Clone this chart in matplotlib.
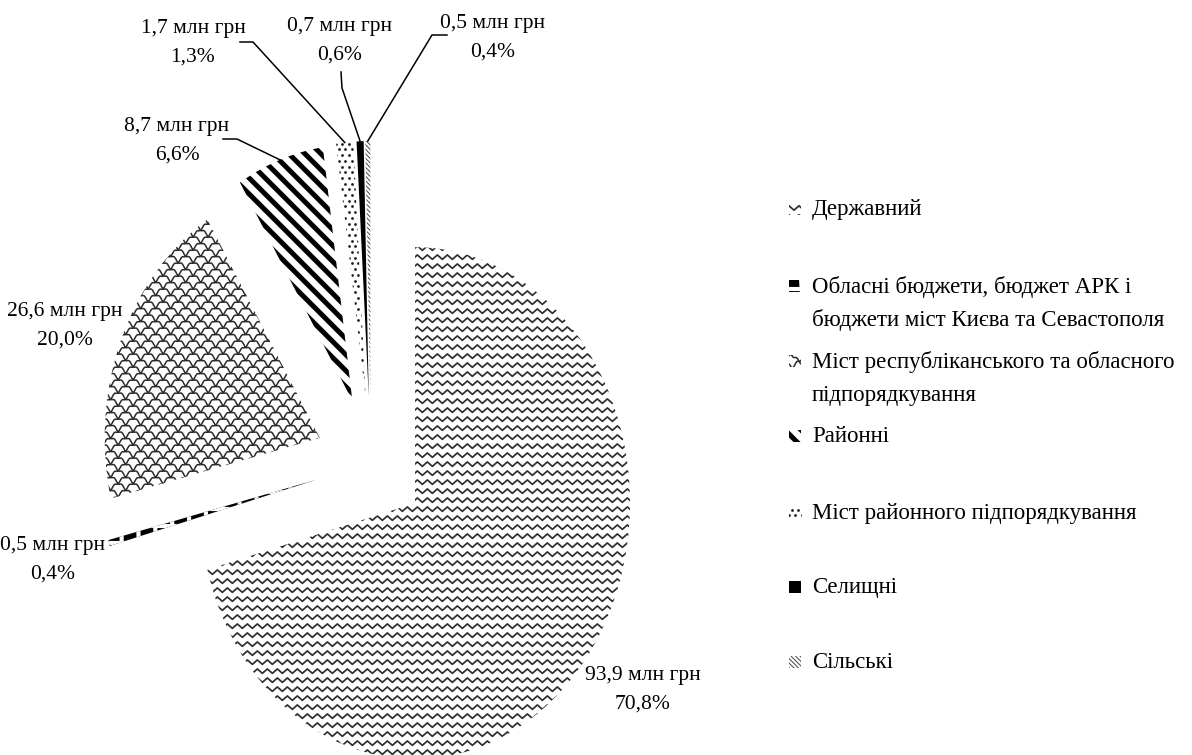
import numpy as np
import matplotlib
matplotlib.use('Agg')
import matplotlib.pyplot as plt
from matplotlib.patches import Rectangle
from matplotlib.collections import LineCollection
from matplotlib.transforms import IdentityTransform

plt.rcParams['font.family'] = ['Liberation Serif', 'DejaVu Serif']

# Розподіл видатків за рівнями бюджетів
categories = [
    'Державний',
    'Обласні бюджети, бюджет АРК і\nбюджети міст Києва та Севастополя',
    'Міст республіканського та обласного\nпідпорядкування',
    'Районні',
    'Міст районного підпорядкування',
    'Селищні',
    'Сільські',
]
amounts = [93.9, 0.5, 26.6, 8.7, 1.7, 0.7, 0.5]   # млн грн
shares = [70.8, 0.4, 20.0, 6.6, 1.3, 0.6, 0.4]    # %
fills = ['wave', 'grid', 'scale', 'stripe', 'dots', 'solid', 'fine']

W, H = 1192, 755
SX = 0.84          # горизонтальне стиснення діаграми
FS_PIE = 15.5
FS_LEG = 16.5

fig = plt.figure(figsize=(W / 100, H / 100), dpi=100)
ax = fig.add_axes([0, 0, 1, 1])


def to_data(x, y):
    """піксельні координати зображення -> координати осей"""
    return x / SX, H - y


wedges, _ = ax.pie(amounts, startangle=90, counterclock=False,
                   radius=256, center=to_data(371, 463),
                   explode=[66] * len(amounts),
                   wedgeprops=dict(facecolor='white', edgecolor='none', linewidth=0))
ax.set_aspect('auto')
ax.set_xlim(0, W / SX)
ax.set_ylim(0, H)
ax.axis('off')

TR = IdentityTransform()


def add_lines(segs, clip, color, lw):
    lc = LineCollection(segs, transform=TR, colors=color, linewidths=lw)
    ax.add_collection(lc, autolim=False)
    lc.set_clip_path(clip)


def texture(patch, kind):
    """заповнення сектора візерунком (у пікселях)"""
    bb = patch.get_window_extent()
    x0, y0, x1, y1 = bb.x0 - 20, bb.y0 - 20, bb.x1 + 20, bb.y1 + 20
    span = (y1 - y0)
    if kind == 'solid':
        patch.set_facecolor('black')
    elif kind == 'wave':
        xs = np.arange(x0, x1, 5.0)
        zig = np.where(np.arange(len(xs)) % 2 == 0, 2.2, -2.2)
        segs = [np.column_stack([xs, yy + zig]) for yy in np.arange(y0, y1, 9.0)]
        add_lines(segs, patch, '#2e2e2e', 1.25)
    elif kind == 'grid':
        patch.set_facecolor('black')
        segs = [[(xx, y0), (xx - 3, y1)] for xx in np.arange(x0, x1, 17.0)]
        segs += [[(x0, yy), (x1, yy)] for yy in np.arange(y0 + 6, y1, 17.0)]
        add_lines(segs, patch, 'white', 3.0)
    elif kind == 'scale':
        w, h = 15.0, 13.0
        xs = np.arange(x0 - span * w / h, x1 + span * w / h, 1.0)
        wob = 1.3 * np.sin(2 * np.pi * xs / 7.5)
        segs = []
        for c in np.arange(x0 - span * w / h, x1 + span * w / h, w):
            segs.append(np.column_stack([xs, y0 + (h / w) * (xs - c) + wob]))
            segs.append(np.column_stack([xs, y1 - (h / w) * (xs - c) + wob]))
        add_lines(segs, patch, '#2a2a2a', 1.1)
    elif kind == 'stripe':
        segs = [[(c, y1), (c + span, y0)] for c in np.arange(x0 - span, x1, 16.0)]
        add_lines(segs, patch, 'black', 3.6)
    elif kind == 'fine':
        segs = [[(c, y1), (c + span, y0)] for c in np.arange(x0 - span, x1, 4.5)]
        add_lines(segs, patch, '#444444', 0.7)
    elif kind == 'dots':
        gx, gy = np.meshgrid(np.arange(x0, x1, 6.5), np.arange(y0, y1, 5.7))
        gx[1::2] += 3.25
        pts, = ax.plot(gx.ravel(), gy.ravel(), 'o', ms=2.0, mew=0,
                       color='#1e1e1e', transform=TR)
        pts.set_clip_path(patch)


for wdg, kind in zip(wedges, fills):
    texture(wdg, kind)

# підписи секторів
label_xy = [(643, 690), (53, 560), (65, 326), (177, 141),
            (193, 43), (340, 41), (493, 38)]
for a, s, (lx, ly) in zip(amounts, shares, label_xy):
    txt = f'{a:.1f} млн грн\n{s:.1f}%'.replace('.', ',')
    ax.text(*to_data(lx, ly), txt, ha='center', va='center',
            fontsize=FS_PIE, linespacing=1.7)

# виносні лінії для дрібних секторів
leaders = {3: [(237, 139), (223, 139)],
           4: [(253, 42), (240, 42)],
           5: [(342, 88), (341, 72)],
           6: [(432, 35), (447, 35)]}
for i, pts in leaders.items():
    wdg = wedges[i]
    th = np.deg2rad((wdg.theta1 + wdg.theta2) / 2)
    tip = (wdg.center[0] + wdg.r * np.cos(th), wdg.center[1] + wdg.r * np.sin(th))
    path = [tip] + [to_data(px, py) for px, py in pts]
    ax.plot([p[0] for p in path], [p[1] for p in path], color='black', lw=1.1)

# легенда
legend_rows = [210, 287, 362, 437, 513, 588, 663]
for cat, kind, ry in zip(categories, fills, legend_rows):
    box = Rectangle((789, H - ry - 5), 12, 12, transform=TR,
                    facecolor='white', edgecolor='none')
    ax.add_patch(box)
    texture(box, kind)
    for k, line in enumerate(cat.split('\n')):
        ax.text(812, H - ry - k * 33, line, transform=TR, ha='left',
                va='center', fontsize=FS_LEG)

fig.savefig('out.png', dpi=100, facecolor='white')
